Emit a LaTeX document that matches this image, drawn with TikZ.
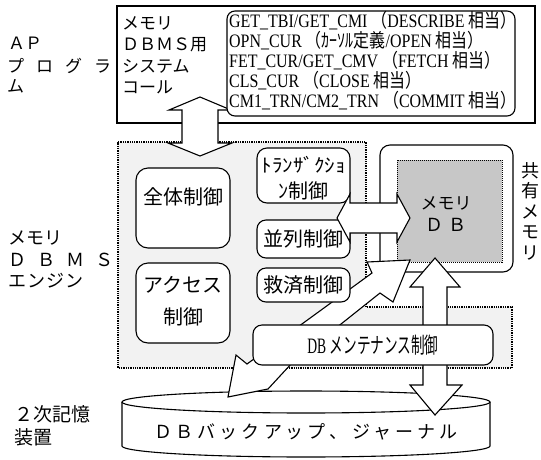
\documentclass[tikz,border=0pt]{standalone}
\usepackage{fontspec}
\usepackage{graphicx}
\setmainfont{Liberation Serif}
\newfontfamily\jp{Noto Sans CJK JP}
\newcommand\fsz[1]{\fontsize{#1}{#1}\selectfont}
\newlength\lsp
\def\LS#1#2{\setlength\lsp{#1}\LSa#2\relax}
\def\LSa#1{#1\futurelet\next\LSb}
\def\LSb{\ifx\next\relax\expandafter\LSend\else\hskip\lsp\relax\expandafter\LSa\fi}
\def\LSend\relax{}
\begin{document}
\begin{tikzpicture}[x=1pt,y=-1pt,
  frame/.style={draw, line width=1.1pt, fill=white, inner sep=0pt},
  rbox/.style={draw, line width=1.1pt, fill=white, rounded corners=10pt, inner sep=0pt},
  barrow/.style={draw, line width=1.1pt, fill=white, line join=miter},
  engine/.style={draw, line width=1.3pt, densely dotted, fill=black!5},
  stip/.style={draw, line width=1pt, densely dotted, fill=black!22, inner sep=0pt},
  jt/.style={inner sep=0pt, font=\jp\fsz{20}},
  lt/.style={inner sep=0pt, anchor=west, font=\jp\fsz{17}},
  api/.style={inner sep=0pt, anchor=west},
]
\useasboundingbox (0,0) rectangle (541,459);

% top system-call box
\node[frame, minimum width=418pt, minimum height=117pt] (apibox) at (326,64.5) {};

% engine box
\draw[engine] (118,142) -- (366,142) -- (366,307) -- (512,307) -- (512,368) -- (118,368) -- cycle;

% disk
\draw[line width=1.1pt] (306,402) ellipse [x radius=184pt, y radius=11pt];
\draw[line width=1.1pt] (122,402) -- (122,446)
  .. controls (122,452.1) and (204.4,457) .. (306,457)
  .. controls (407.6,457) and (490,452.1) .. (490,446) -- (490,402);

% shared memory and memory DB
\node[rbox, minimum width=133pt, minimum height=127pt] (shmem) at (446.5,208.5) {};
\node[stip, minimum width=105pt, minimum height=102pt] (memdb) at (449.5,211) {};

% lightning arrow memory DB -> disk
\draw[barrow] (367,262) -- (410,260) -- (393,302) -- (380,293) -- (292,363) -- (268,389)
  -- (228,397) -- (236,355) -- (247,364) -- (372,273) -- cycle;

% engine inner boxes
\node[rbox, rounded corners=12pt, minimum width=94pt, minimum height=80pt] (zentai) at (183,208) {};
\node[rbox, rounded corners=12pt, minimum width=94pt, minimum height=80pt] (access) at (183,303) {};
\node[rbox, minimum width=93pt, minimum height=55pt] (trans) at (303.5,175.5) {};
\node[rbox, rounded corners=9pt, minimum width=93pt, minimum height=38pt] (heiretsu) at (303.5,239) {};
\node[rbox, rounded corners=9pt, minimum width=93pt, minimum height=34pt] (kyusai) at (303.5,285) {};

% horizontal double arrow engine <-> memory DB
\draw[barrow] (337,218) -- (350,194) -- (350,203) -- (397,203) -- (397,194) -- (410,218)
  -- (397,242) -- (397,233) -- (350,233) -- (350,242) -- cycle;

% vertical double arrow memory DB <-> disk
\draw[barrow] (435,258) -- (460,287) -- (447,287) -- (447,385) -- (462,385) -- (435,415)
  -- (410,385) -- (423,385) -- (423,287) -- (410,287) -- cycle;

% DB maintenance box
\node[rbox, rounded corners=9pt, minimum width=240pt, minimum height=40pt] (dbm) at (373,345) {};

% AP <-> engine double arrow
\draw[barrow] (200,97) -- (231,110) -- (218,110) -- (218,143) -- (232,143) -- (200,156)
  -- (168,143) -- (182,143) -- (182,110) -- (169,110) -- cycle;

% API list box
\node[rbox, rounded corners=8pt, minimum width=288pt, minimum height=105pt] (listbox) at (371,63.5) {};

% ---- texts ----
\node[lt] (ap1) at (8,43) {ＡＰ};
\node[lt] (ap2) at (7,66) {\LS{12pt}{プログラ}};
\node[lt] (ap3) at (7,86) {ム};
\node[lt] (sc1) at (122,23) {メモリ};
\node[lt] (sc2) at (122,45) {ＤＢＭＳ用};
\node[lt] (sc3) at (122,66) {システム};
\node[lt] (sc4) at (122,87) {コール};

\node[api] (l1) at (229,21) {\scalebox{0.84}[1]{\fsz{19}GET\_TBI/GET\_CMI {\jp\fsz{19}（}DESCRIBE {\jp\fsz{19}相当）}}};
\node[api] (l2) at (229,41) {\scalebox{0.84}[1]{\fsz{19}OPN\_CUR {\jp\fsz{19}（ｶｰｿﾙ定義}/OPEN {\jp\fsz{19}相当）}}};
\node[api] (l3) at (229,61) {\scalebox{0.84}[1]{\fsz{19}FET\_CUR/GET\_CMV {\jp\fsz{19}（}FETCH {\jp\fsz{19}相当）}}};
\node[api] (l4) at (229,81) {\scalebox{0.84}[1]{\fsz{19}CLS\_CUR {\jp\fsz{19}（}CLOSE {\jp\fsz{19}相当）}}};
\node[api] (l5) at (229,101) {\scalebox{0.84}[1]{\fsz{19}CM1\_TRN/CM2\_TRN {\jp\fsz{19}（}COMMIT {\jp\fsz{19}相当）}}};

\node[lt, font=\jp\fsz{18}] (en1) at (8,238) {メモリ};
\node[lt, font=\jp\fsz{18}] (en2) at (8,260) {\LS{11pt}{ＤＢＭＳ}};
\node[lt, font=\jp\fsz{18}] (en3) at (8,281) {\LS{1pt}{エンジン}};

\node[lt, font=\jp\fsz{19}] (st1) at (14,414) {２次記憶};
\node[lt, font=\jp\fsz{19}] (st2) at (14,437) {装置};

\node[inner sep=0pt, align=center, font=\jp\fontsize{18}{20.5}\selectfont] (kyoyu) at (530,211) {共\\有\\メ\\モ\\リ};

\node[jt, font=\jp\fsz{17}] (mdb1) at (446,203) {メモリ};
\node[jt, font=\jp\fsz{18}] (mdb2) at (446,225) {\LS{6pt}{ＤＢ}};

\node[jt] (t1) at (183,197) {全体制御};
\node[jt] (t2) at (183,285) {アクセス};
\node[jt] (t3) at (183,317) {制御};
\node[jt] (t4) at (303.5,165) {\resizebox{84pt}{\height}{\fsz{19}ﾄﾗﾝｻﾞｸｼｮ}};
\node[jt] (t5) at (303.5,191) {ﾝ制御};
\node[jt] (t6) at (303.5,239) {並列制御};
\node[jt] (t7) at (303.5,285) {救済制御};
\node[inner sep=0pt] (t8) at (373,345) {\scalebox{0.62}[1]{\fsz{22}DB {\jp メンテナンス制御}}};
\node[jt, font=\jp\fsz{18}] (t9) at (306,432) {\LS{4pt}{ＤＢバックアップ、ジャーナル}};
\end{tikzpicture}
\end{document}
